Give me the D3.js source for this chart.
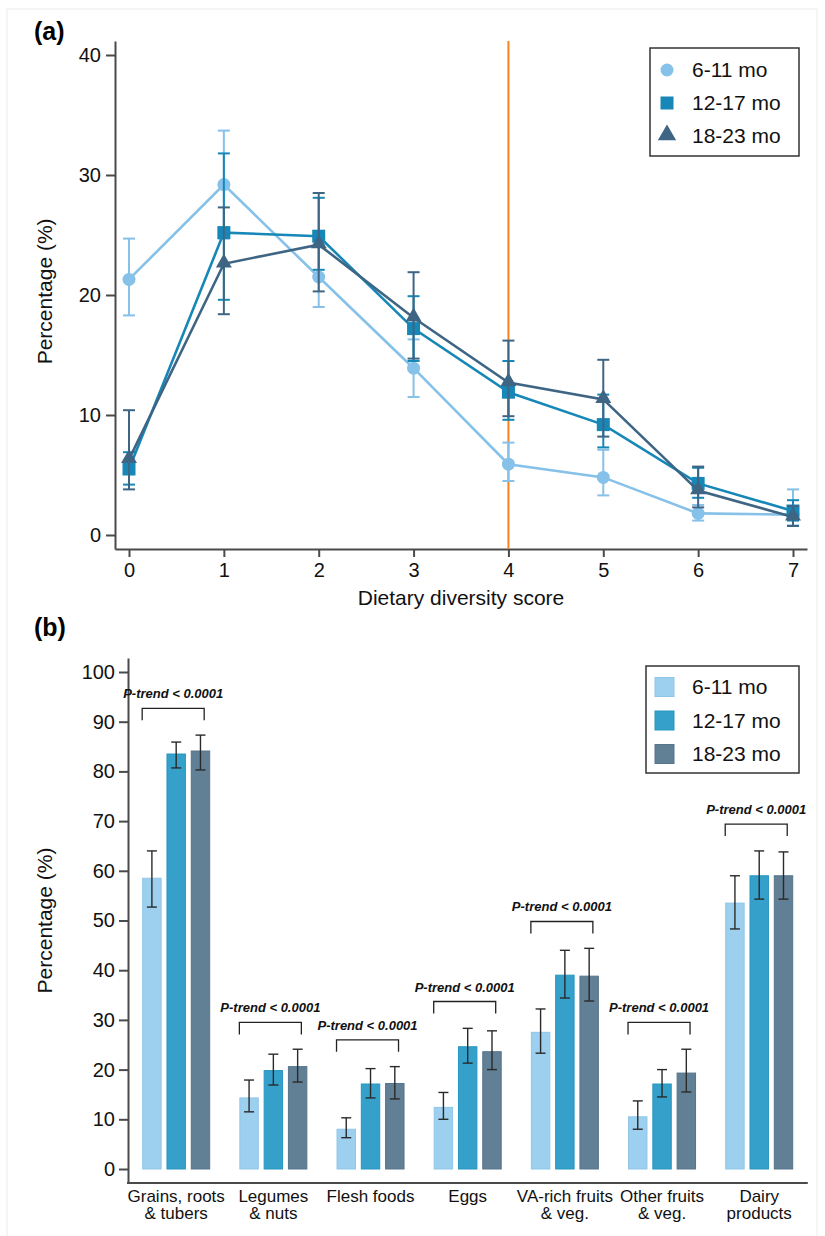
<!DOCTYPE html>
<html><head><meta charset="utf-8">
<script src="https://cdn.jsdelivr.net/npm/d3@7"></script>
<style>
body{margin:0;background:#fff}
svg{display:block;font-family:"Liberation Sans",Arial,Helvetica,sans-serif}
</style>
</head><body>
<svg id="chart" width="825" height="1236"></svg>
<script>
// ---------- Panel (a) data ----------
const seriesNames = ["6-11 mo", "12-17 mo", "18-23 mo"];
const scores = [0, 1, 2, 3, 4, 5, 6, 7];
const dds611   = [21.3, 29.2, 21.5, 13.9, 5.9, 4.8, 1.8, 1.7];
const dds611Lo = [18.3, 24.7, 19.0, 11.5, 4.5, 3.3, 1.2, 0.8];
const dds611Hi = [24.7, 33.7, 24.2, 16.3, 7.7, 7.1, 2.5, 3.8];
const dds1217   = [5.5, 25.2, 24.9, 17.2, 11.9, 9.2, 4.3, 2.0];
const dds1217Lo = [4.2, 19.6, 22.1, 14.5, 9.6, 7.3, 3.1, 1.2];
const dds1217Hi = [6.9, 31.8, 28.1, 19.9, 14.5, 11.7, 5.6, 2.9];
const dds1823   = [6.3, 22.6, 24.2, 18.1, 12.7, 11.3, 3.7, 1.5];
const dds1823Lo = [3.8, 18.4, 20.3, 14.7, 9.9, 8.2, 2.3, 0.75];
const dds1823Hi = [10.4, 27.3, 28.5, 21.9, 16.2, 14.6, 5.7, 2.4];
const aTicks = [0, 10, 20, 30, 40];
const mddCutoff = 4;

// ---------- Panel (b) data ----------
const foodGroups = [
  ["Grains, roots", "& tubers"],
  ["Legumes", "& nuts"],
  ["Flesh foods"],
  ["Eggs"],
  ["VA-rich fruits", "& veg."],
  ["Other fruits", "& veg."],
  ["Dairy", "products"]
];
const pct611   = [58.5, 14.3, 8.0, 12.4, 27.5, 10.5, 53.5];
const pct611Lo = [52.7, 11.5, 6.3, 10.0, 23.3, 8.0, 48.3];
const pct611Hi = [64.0, 17.9, 10.3, 15.4, 32.2, 13.7, 59.0];
const pct1217   = [83.5, 19.8, 17.1, 24.6, 39.0, 17.1, 59.0];
const pct1217Lo = [80.7, 16.9, 14.3, 21.3, 34.4, 14.5, 54.3];
const pct1217Hi = [85.9, 23.1, 20.2, 28.3, 44.0, 20.0, 64.0];
const pct1823   = [84.1, 20.6, 17.2, 23.6, 38.8, 19.3, 59.0];
const pct1823Lo = [80.3, 17.5, 14.1, 20.0, 33.8, 15.5, 54.3];
const pct1823Hi = [87.3, 24.1, 20.6, 27.8, 44.4, 24.1, 63.8];
const bTicks = [0, 10, 20, 30, 40, 50, 60, 70, 80, 90, 100];
const trendLabels = ["P-trend < 0.0001", "P-trend < 0.0001", "P-trend < 0.0001",
  "P-trend < 0.0001", "P-trend < 0.0001", "P-trend < 0.0001", "P-trend < 0.0001"];

// ---------- styles ----------
const lineColors = ["#86c1e9", "#1687b7", "#3e6584"];
const barColors = ["#9dcfee", "#35a1ca", "#617f95"];
const barStroke = ["#8fc6e8", "#2796c1", "#56748b"];
const axisColor = "#4a4a4a";

const svg = d3.select("#chart");
svg.append("rect").attr("x", 7).attr("y", 9).attr("width", 810).attr("height", 1240)
  .attr("fill", "none").attr("stroke", "#ececec").attr("stroke-width", 1);

// =================== PANEL A ===================
const ga = svg.append("g");
const xa = d3.scaleLinear().domain([-0.1476, 7.1476]).range([115, 807]);
const ya = d3.scaleLinear().domain([-1.167, 41.167]).range([549, 41]);

ga.append("text").attr("x", 34).attr("y", 40).attr("font-size", 25).attr("font-weight", "bold").text("(a)");

const axA_y = ga.append("g").attr("transform", "translate(115,0)")
  .call(d3.axisLeft(ya).tickValues(aTicks).tickSize(9).tickSizeOuter(0).tickPadding(5).tickFormat(d3.format("d")));
const axA_x = ga.append("g").attr("transform", "translate(0,549)")
  .call(d3.axisBottom(xa).tickValues(scores).tickSize(8).tickSizeOuter(0).tickPadding(6).tickFormat(d3.format("d")));
[axA_y, axA_x].forEach(ax => {
  ax.selectAll("path,line").attr("stroke", axisColor).attr("stroke-width", 2);
  ax.selectAll("text").attr("font-size", 20).attr("fill", "#111").attr("font-family", "Liberation Sans, Arial, sans-serif");
});

ga.append("text").attr("transform", `translate(52,${ya(20.3)}) rotate(-90)`)
  .attr("text-anchor", "middle").attr("font-size", 21).attr("fill", "#111").text("Percentage (%)");
ga.append("text").attr("x", 461).attr("y", 605).attr("text-anchor", "middle")
  .attr("font-size", 21).attr("fill", "#111").text("Dietary diversity score");

// cutoff line
ga.append("line").attr("x1", xa(mddCutoff)).attr("x2", xa(mddCutoff))
  .attr("y1", ya.range()[1]).attr("y2", ya.range()[0])
  .attr("stroke", "#f7821f").attr("stroke-width", 2);

const seriesA = [
  {name: seriesNames[0], v: dds611, lo: dds611Lo, hi: dds611Hi, shape: "circle"},
  {name: seriesNames[1], v: dds1217, lo: dds1217Lo, hi: dds1217Hi, shape: "square"},
  {name: seriesNames[2], v: dds1823, lo: dds1823Lo, hi: dds1823Hi, shape: "triangle"}
];
const capW = 6;
const line = d3.line().x(d => xa(d.x)).y(d => ya(d.y));

function drawMarker(g, shape, cx, cy, color, scale) {
  scale = scale || 1;
  if (shape === "circle") {
    g.append("circle").attr("cx", cx).attr("cy", cy).attr("r", 6.5 * scale).attr("fill", color);
  } else if (shape === "square") {
    const s = 13 * scale;
    g.append("rect").attr("x", cx - s / 2).attr("y", cy - s / 2).attr("width", s).attr("height", s).attr("fill", color);
  } else {
    g.append("path").attr("d", d3.symbol().type(d3.symbolTriangle).size(110 * scale * scale)())
      .attr("transform", `translate(${cx},${cy - 1})`).attr("fill", color);
  }
}

seriesA.forEach((s, i) => {
  const pts = scores.map((x, j) => ({x, y: s.v[j], lo: s.lo[j], hi: s.hi[j]}));
  const g = ga.append("g");
  g.append("path").datum(pts).attr("d", line).attr("fill", "none")
    .attr("stroke", lineColors[i]).attr("stroke-width", 2.6);
  pts.forEach(p => {
    const cx = xa(p.x);
    g.append("line").attr("x1", cx).attr("x2", cx).attr("y1", ya(p.lo)).attr("y2", ya(p.hi))
      .attr("stroke", lineColors[i]).attr("stroke-width", 2);
    [p.lo, p.hi].forEach(v => g.append("line").attr("x1", cx - capW).attr("x2", cx + capW)
      .attr("y1", ya(v)).attr("y2", ya(v)).attr("stroke", lineColors[i]).attr("stroke-width", 2));
    drawMarker(g, s.shape, cx, ya(p.y), lineColors[i]);
  });
});

// legend a
const la = ga.append("g");
la.append("rect").attr("x", 650).attr("y", 48).attr("width", 149).attr("height", 108)
  .attr("fill", "#fff").attr("stroke", "#333").attr("stroke-width", 1.5);
seriesA.forEach((s, i) => {
  const cy = 70 + i * 33;
  drawMarker(la, s.shape, 667, cy, lineColors[i], s.shape === "triangle" ? 1.15 : 1);
  la.append("text").attr("x", 692).attr("y", cy).attr("dy", "0.35em")
    .attr("font-size", 21).attr("fill", "#111").text(s.name);
});

// =================== PANEL B ===================
const gb = svg.append("g");
gb.append("text").attr("x", 34).attr("y", 636).attr("font-size", 25).attr("font-weight", "bold").text("(b)");

const xb = d3.scaleBand().domain(d3.range(foodGroups.length)).range([127.6, 807.8]).padding(0);
const xInner = d3.scaleBand().domain(seriesNames).range([-34, 34]).paddingInner(0.2);
const yb = d3.scaleLinear().domain([-2.817, 102.817]).range([1183, 658]);

const axB_y = gb.append("g").attr("transform", "translate(128,0)")
  .call(d3.axisLeft(yb).tickValues(bTicks).tickSize(9).tickSizeOuter(0).tickPadding(4).tickFormat(d3.format("d")));
axB_y.selectAll("path,line").attr("stroke", axisColor).attr("stroke-width", 2);
axB_y.selectAll("text").attr("font-size", 20).attr("fill", "#111").attr("font-family", "Liberation Sans, Arial, sans-serif");
const axB_x = gb.append("g").attr("transform", "translate(0,1183)")
  .call(d3.axisBottom(xb).tickSize(0).tickSizeOuter(0).tickFormat(""));
axB_x.select("path").attr("stroke", axisColor).attr("stroke-width", 2);
axB_x.select("path").attr("d", `M127,0H807.8`);

gb.append("text").attr("transform", `translate(52,${yb(50)}) rotate(-90)`)
  .attr("text-anchor", "middle").attr("font-size", 21).attr("fill", "#111").text("Percentage (%)");

// x labels
foodGroups.forEach((lines, k) => {
  const cx = xb(k) + xb.bandwidth() / 2;
  const t = gb.append("text").attr("text-anchor", "middle").attr("font-size", 17).attr("fill", "#111");
  lines.forEach((ln, li) => t.append("tspan").attr("x", cx).attr("y", 1202 + li * 17).text(ln));
});

const seriesB = [
  {v: pct611, lo: pct611Lo, hi: pct611Hi},
  {v: pct1217, lo: pct1217Lo, hi: pct1217Hi},
  {v: pct1823, lo: pct1823Lo, hi: pct1823Hi}
];

foodGroups.forEach((_, k) => {
  const c = xb(k) + xb.bandwidth() / 2;
  const g = gb.append("g").attr("transform", `translate(${c},0)`);
  seriesB.forEach((s, i) => {
    const x0 = xInner(seriesNames[i]);
    g.append("rect").attr("x", x0 + 0.5).attr("y", yb(s.v[k]))
      .attr("width", xInner.bandwidth() - 1).attr("height", yb(0) - yb(s.v[k]))
      .attr("fill", barColors[i]).attr("stroke", barStroke[i]).attr("stroke-width", 1);
  });
  seriesB.forEach((s, i) => {
    const cx = xInner(seriesNames[i]) + xInner.bandwidth() / 2;
    g.append("line").attr("x1", cx).attr("x2", cx).attr("y1", yb(s.lo[k])).attr("y2", yb(s.hi[k]))
      .attr("stroke", "#2a2a2a").attr("stroke-width", 1.4);
    [s.lo[k], s.hi[k]].forEach(v => g.append("line").attr("x1", cx - 5).attr("x2", cx + 5)
      .attr("y1", yb(v)).attr("y2", yb(v)).attr("stroke", "#2a2a2a").attr("stroke-width", 1.4));
  });
  // bracket
  const maxHi = d3.max(seriesB, s => s.hi[k]);
  const topY = yb(maxHi + 5.4);
  g.append("path").attr("d", `M-34,${topY + 12}V${topY}H28V${topY + 12}`)
    .attr("fill", "none").attr("stroke", "#222").attr("stroke-width", 1.3);
  g.append("text").attr("x", -3).attr("y", topY - 10).attr("text-anchor", "middle")
    .attr("font-size", 13).attr("font-weight", "bold").attr("font-style", "italic")
    .attr("fill", "#111").text(trendLabels[k]);
});

// legend b
const lb = gb.append("g");
lb.append("rect").attr("x", 646).attr("y", 666).attr("width", 153).attr("height", 107)
  .attr("fill", "#fff").attr("stroke", "#333").attr("stroke-width", 1.5);
seriesNames.forEach((n, i) => {
  const cy = 687 + i * 33.5;
  lb.append("rect").attr("x", 655).attr("y", cy - 9.5).attr("width", 19).attr("height", 19)
    .attr("fill", barColors[i]).attr("stroke", barStroke[i]);
  lb.append("text").attr("x", 692).attr("y", cy).attr("dy", "0.35em")
    .attr("font-size", 21).attr("fill", "#111").text(n);
});
</script>
</body></html>
